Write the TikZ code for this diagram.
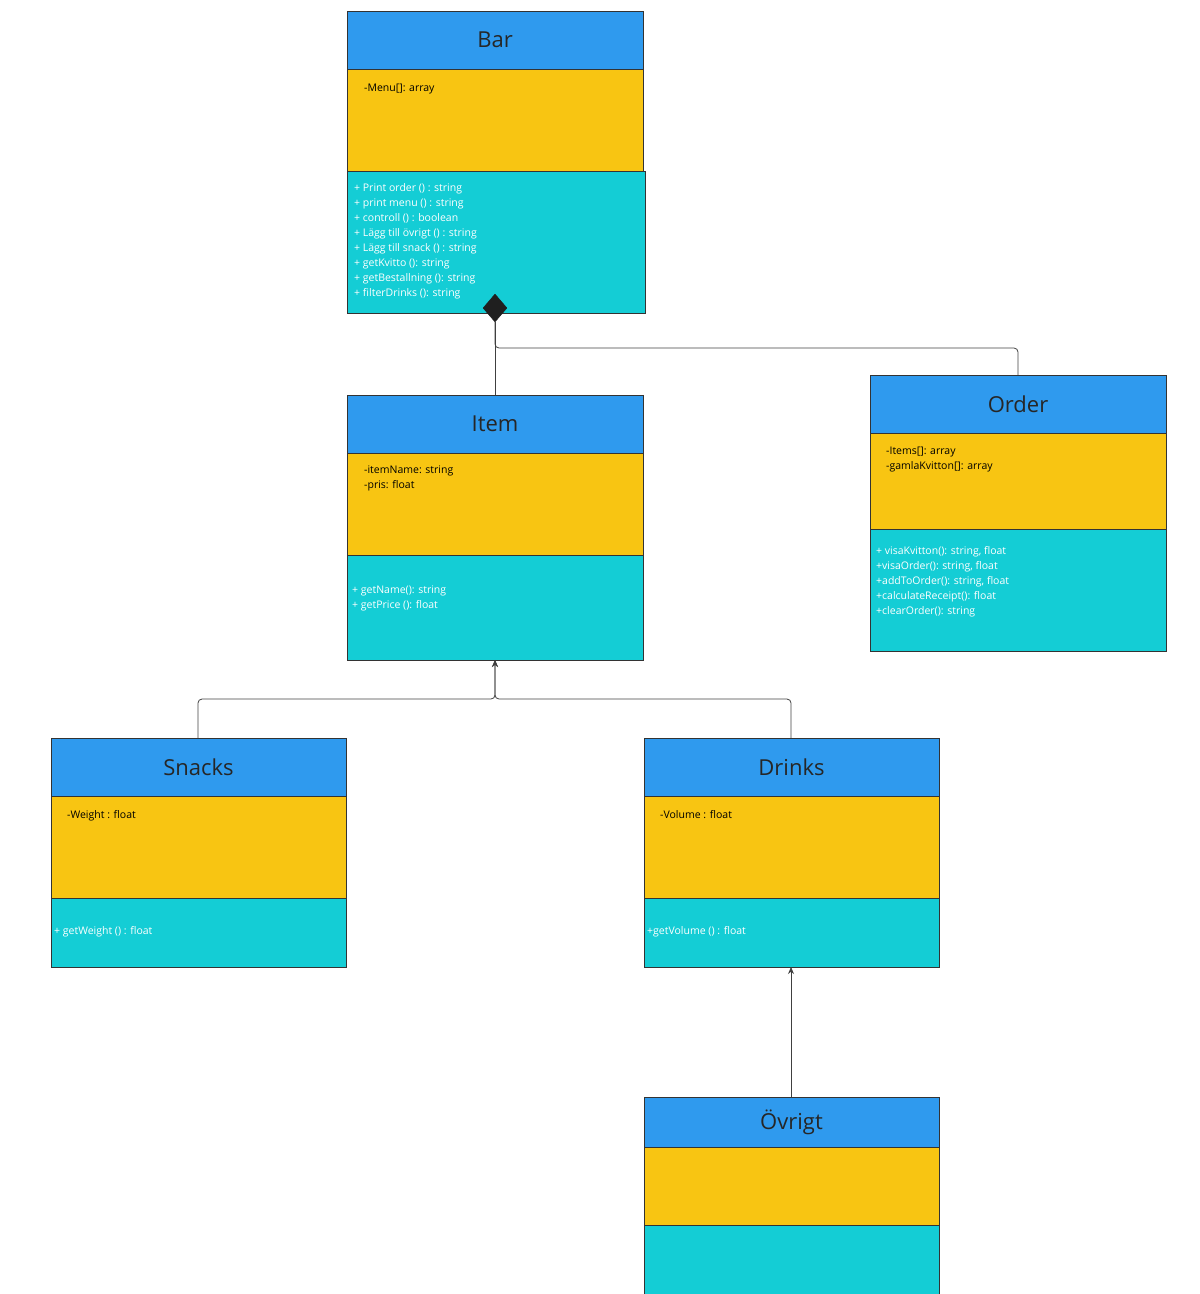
\documentclass[tikz,border=0pt]{standalone}
\usepackage{fontspec}
\setmainfont{Open Sans}
\usetikzlibrary{shapes.geometric,arrows.meta}
\definecolor{hb}{HTML}{2F9AEE}
\definecolor{ye}{HTML}{F8C512}
\definecolor{cy}{HTML}{14CDD5}
\tikzset{
 box/.style={draw=black!80,line width=0.8pt,anchor=north west,inner sep=0pt,outer sep=0pt},
 hd/.style={box,fill=hb,font=\fontsize{22}{24}\selectfont,text=black!85},
 attr/.style={box,fill=ye},
 me/.style={box,fill=cy},
 txt/.style={anchor=north west,align=left,inner sep=0pt,font=\fontsize{10.5}{15}\selectfont},
 wt/.style={txt,text=white},
 ln/.style={draw=black!75,line width=0.8pt,rounded corners=4pt},
 inh/.style={ln,-{Stealth[length=7pt,width=6pt]}}
}
\begin{document}
\begin{tikzpicture}[x=1pt,y=-1pt]
\useasboundingbox (0,0) rectangle (1200,1294);
% Bar
\node[hd,minimum width=296,minimum height=58] (barh) at (347,11) {Bar};
\node[attr,minimum width=296,minimum height=102] (bara) at (347,69) {};
\node[me,minimum width=298,minimum height=142] (barm) at (347,171) {};
\node[txt] (bart) at (364,84) {-Menu[]: array};
\node[wt] (barmt) at (354,183) {+ Print order () : string\\+ print menu () : string\\+ controll () : boolean\\+ Lägg till övrigt () : string\\+ Lägg till snack () : string\\+ getKvitto (): string\\+ getBestallning (): string\\+ filterDrinks (): string};
% Item
\node[hd,minimum width=296,minimum height=58] (itemh) at (347,395) {Item};
\node[attr,minimum width=296,minimum height=102] (itema) at (347,453) {};
\node[me,minimum width=296,minimum height=105] (itemm) at (347,555) {};
\node[txt] (itemt) at (364,466) {-itemName: string\\-pris: float};
\node[wt] (itemmt) at (352,586) {+ getName(): string\\+ getPrice (): float};
% Order
\node[hd,minimum width=296,minimum height=58] (ordh) at (870,375) {Order};
\node[attr,minimum width=296,minimum height=96] (orda) at (870,433) {};
\node[me,minimum width=296,minimum height=122] (ordm) at (870,529) {};
\node[txt] (ordt) at (886,447) {-Items[]: array\\-gamlaKvitton[]: array};
\node[wt] (ordmt) at (876,546) {+ visaKvitton(): string, float\\+visaOrder(): string, float\\+addToOrder(): string, float\\+calculateReceipt(): float\\+clearOrder(): string};
% Snacks
\node[hd,minimum width=295,minimum height=58] (snh) at (51,738) {Snacks};
\node[attr,minimum width=295,minimum height=102] (sna) at (51,796) {};
\node[me,minimum width=295,minimum height=69] (snm) at (51,898) {};
\node[txt] (snt) at (67,810) {-Weight : float};
\node[wt] (snmt) at (54,926) {+ getWeight () : float};
% Drinks
\node[hd,minimum width=295,minimum height=58] (drh) at (644,738) {Drinks};
\node[attr,minimum width=295,minimum height=102] (dra) at (644,796) {};
\node[me,minimum width=295,minimum height=69] (drm) at (644,898) {};
\node[txt] (drt) at (660,810) {-Volume : float};
\node[wt] (drmt) at (647,926) {+getVolume () : float};
% Övrigt
\node[hd,minimum width=295,minimum height=50] (ovh) at (644,1097) {Övrigt};
\node[attr,minimum width=295,minimum height=78] (ova) at (644,1147) {};
\node[me,minimum width=295,minimum height=69] (ovm) at (644,1225) {};
% connectors
\node[diamond,fill=black!88,draw=black!88,inner sep=0pt,minimum width=24,minimum height=28] (dia) at (495,308) {};
\draw[ln] (dia.south) -- (itemh.north);
\draw[ln] (dia.south) |- (1018,348) -- (ordh.north -| 1018,0);
\coordinate (j) at (495,699);
\draw[inh] (snh.north -| 198,0) |- (j) -- (itemm.south -| 495,0);
\draw[inh] (drh.north -| 791,0) |- (j) -- (itemm.south -| 495,0);
\draw[inh] (ovh.north -| 791,0) -- (drm.south -| 791,0);
\end{tikzpicture}
\end{document}
